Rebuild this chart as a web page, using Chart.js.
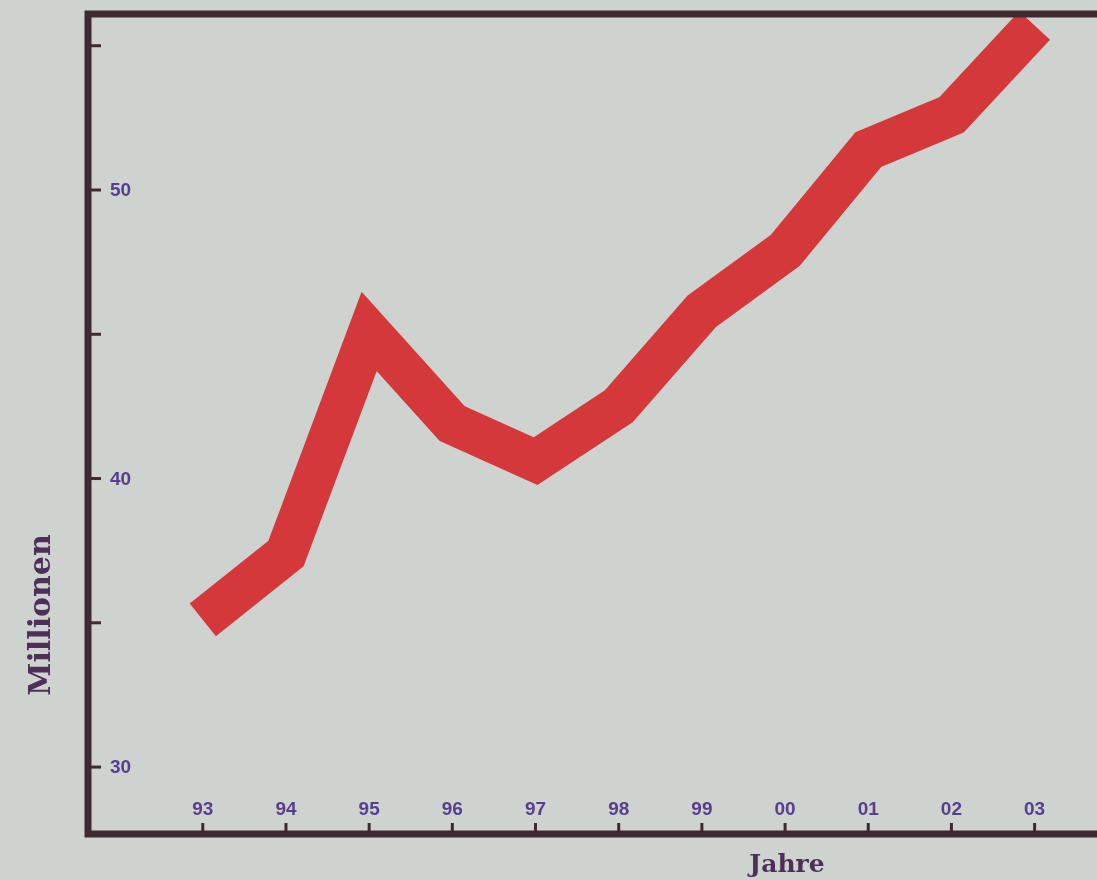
<!DOCTYPE html>
<html>
<head>
<meta charset="utf-8">
<script src="https://cdn.jsdelivr.net/npm/chart.js@4.4.1/dist/chart.umd.min.js"></script>
<style>
  html, body { margin: 0; padding: 0; background: #cfd3d0; overflow: hidden; }
  canvas { display: block; }
</style>
</head>
<body>
<canvas id="chart" width="1097" height="880"></canvas>
<script>
// Jahre 1993-2003, Werte in Millionen
const years = [1993, 1994, 1995, 1996, 1997, 1998, 1999, 2000, 2001, 2002, 2003];
const yearLabels = ['93', '94', '95', '96', '97', '98', '99', '00', '01', '02', '03'];
const values = [35.1, 37.4, 45.1, 41.9, 40.6, 42.5, 45.8, 47.9, 51.4, 52.6, 55.7];
const yTicks = [30, 35, 40, 45, 50, 55];
const yTickLabels = ['30', '', '40', '', '50', ''];

const frameColor = '#3f2a33';
const textColor = '#583f8c';
const titleColor = '#4d2f58';

const framePlugin = {
  id: 'frame',
  beforeDraw(chart) {
    const ctx = chart.ctx;
    ctx.save();
    ctx.fillStyle = '#cfd3d0';
    ctx.fillRect(0, 0, chart.width, chart.height);
    ctx.restore();
  },
  afterDatasetsDraw(chart) {
    const { ctx, chartArea: a, scales: { x, y } } = chart;
    ctx.save();
    // Rahmen
    ctx.strokeStyle = frameColor;
    ctx.lineWidth = 7;
    ctx.beginPath();
    ctx.moveTo(chart.width + 10, a.top);
    ctx.lineTo(a.left, a.top);
    ctx.lineTo(a.left, a.bottom);
    ctx.lineTo(chart.width + 10, a.bottom);
    ctx.stroke();

    // y-Ticks (innen)
    ctx.lineWidth = 3;
    ctx.font = 'bold 19px "Liberation Sans", Arial, sans-serif';
    ctx.fillStyle = textColor;
    ctx.textAlign = 'left';
    ctx.textBaseline = 'middle';
    yTicks.forEach((v, i) => {
      const py = y.getPixelForValue(v);
      ctx.beginPath();
      ctx.moveTo(a.left, py);
      ctx.lineTo(a.left + 13, py);
      ctx.stroke();
      if (yTickLabels[i]) ctx.fillText(yTickLabels[i], a.left + 22, py + 1);
    });

    // x-Ticks (innen)
    ctx.textAlign = 'center';
    ctx.textBaseline = 'bottom';
    years.forEach((yr, i) => {
      const px = x.getPixelForValue(yr);
      ctx.beginPath();
      ctx.moveTo(px, a.bottom);
      ctx.lineTo(px, a.bottom - 11);
      ctx.stroke();
      ctx.fillText(yearLabels[i], px, a.bottom - 15);
    });

    // Achsentitel
    ctx.fillStyle = titleColor;
    ctx.font = 'bold 25px "DejaVu Serif", serif';
    ctx.textBaseline = 'alphabetic';
    ctx.fillText('Jahre', 787, 872);
    ctx.translate(42, 615);
    ctx.rotate(-Math.PI / 2);
    ctx.textBaseline = 'middle';
    ctx.font = 'bold 30px "DejaVu Serif", serif';
    ctx.fillText('Millionen', 0, 0);
    ctx.restore();
  }
};

new Chart(document.getElementById('chart'), {
  type: 'line',
  data: {
    datasets: [{
      data: years.map((yr, i) => ({ x: yr, y: values[i] })),
      borderColor: '#d5383a',
      borderWidth: 42,
      borderCapStyle: 'butt',
      borderJoinStyle: 'miter',
      tension: 0,
      pointRadius: 0,
      fill: false,
      clip: false
    }]
  },
  options: {
    responsive: false,
    devicePixelRatio: 1,
    animation: false,
    layout: { padding: { left: 88, top: 14, right: 0, bottom: 46 } },
    plugins: { legend: { display: false }, tooltip: { enabled: false } },
    scales: {
      x: { type: 'linear', min: 1991.62, max: 2003.75, display: false },
      y: { type: 'linear', min: 27.68, max: 56.1, display: false }
    }
  },
  plugins: [framePlugin]
});
</script>
</body>
</html>
